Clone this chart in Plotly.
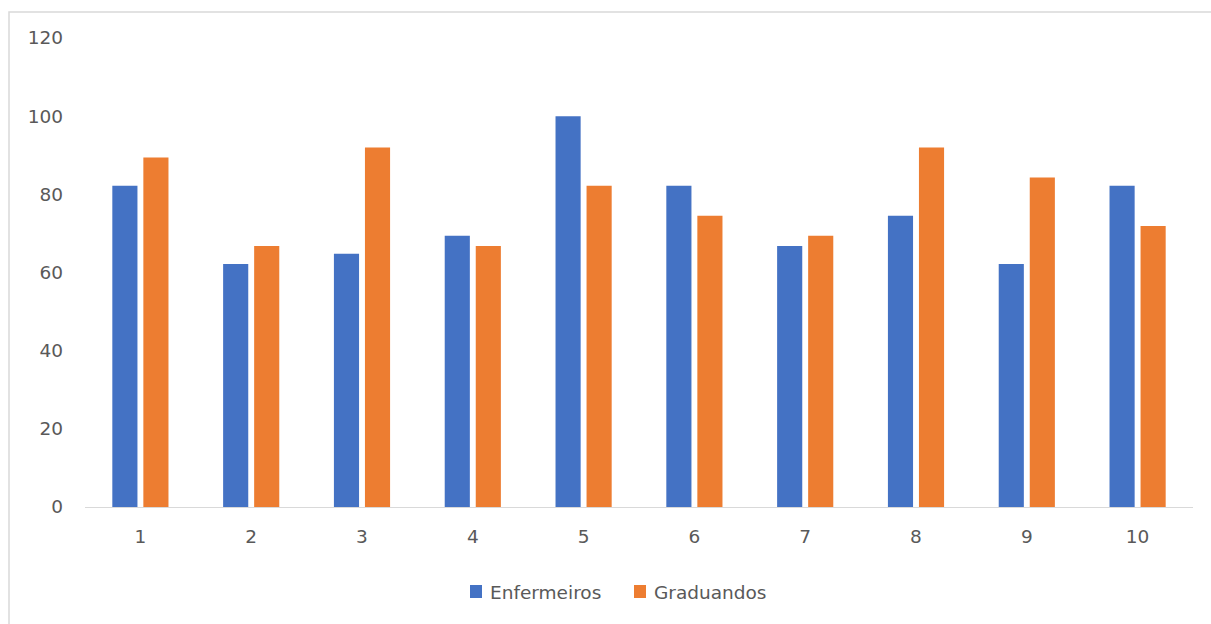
import plotly.graph_objects as go

categories = ["1", "2", "3", "4", "5", "6", "7", "8", "9", "10"]
enfermeiros = [82.2, 62.2, 64.8, 69.4, 100, 82.2, 66.8, 74.5, 62.2, 82.2]
graduandos = [89.4, 66.8, 92.0, 66.8, 82.2, 74.5, 69.4, 92.0, 84.3, 71.9]
series_names = ["Enfermeiros", "Graduandos"]
series_colors = ["#4472C4", "#ED7D31"]
y_ticks = [0, 20, 40, 60, 80, 100, 120]

W, H = 1211, 624
L, R, T, B = 85, 18, 38, 117
pw, ph = W - L - R, H - T - B


def px_x(v):
    return (v - L) / pw


def px_y(v):
    return (T + ph - v) / ph


fig = go.Figure()
for name, vals, col in zip(series_names, [enfermeiros, graduandos], series_colors):
    fig.add_trace(go.Bar(x=categories, y=vals, name=name,
                         marker=dict(color=col, line=dict(width=0)), showlegend=False))

font = dict(family="DejaVu Sans, sans-serif", size=18.5, color="#595959")

fig.update_layout(
    width=W, height=H,
    margin=dict(l=L, r=R, t=T, b=B, pad=0),
    paper_bgcolor="white", plot_bgcolor="white",
    barmode="group", bargap=0.44, bargroupgap=0.19,
    font=font,
    showlegend=False,
    xaxis=dict(type="category", showgrid=False, showline=True, linecolor="#d9d9d9",
               linewidth=1, ticks="", tickfont=font, ticklabelstandoff=13, zeroline=False),
    yaxis=dict(range=[0, 120], tickvals=y_ticks, showgrid=False, showline=False,
               zeroline=False, ticks="", tickfont=font, ticklabelstandoff=21),
)

# outer chart border
fig.add_shape(type="rect", xref="paper", yref="paper",
              x0=px_x(9), x1=px_x(W + 5), y0=px_y(H + 5), y1=px_y(12),
              line=dict(color="#d9d9d9", width=1.5), fillcolor="rgba(0,0,0,0)", layer="below")

# legend (squares + labels)
legend_x = [470, 634]
for lx, name, col in zip(legend_x, series_names, series_colors):
    fig.add_shape(type="rect", xref="paper", yref="paper",
                  x0=px_x(lx), x1=px_x(lx + 12), y0=px_y(598), y1=px_y(585),
                  line=dict(width=0), fillcolor=col)
    fig.add_annotation(text=name, xref="paper", yref="paper",
                       x=px_x(lx + 18), y=px_y(592), xanchor="left", yanchor="middle",
                       showarrow=False, font=font)

fig.write_html("out.html")
